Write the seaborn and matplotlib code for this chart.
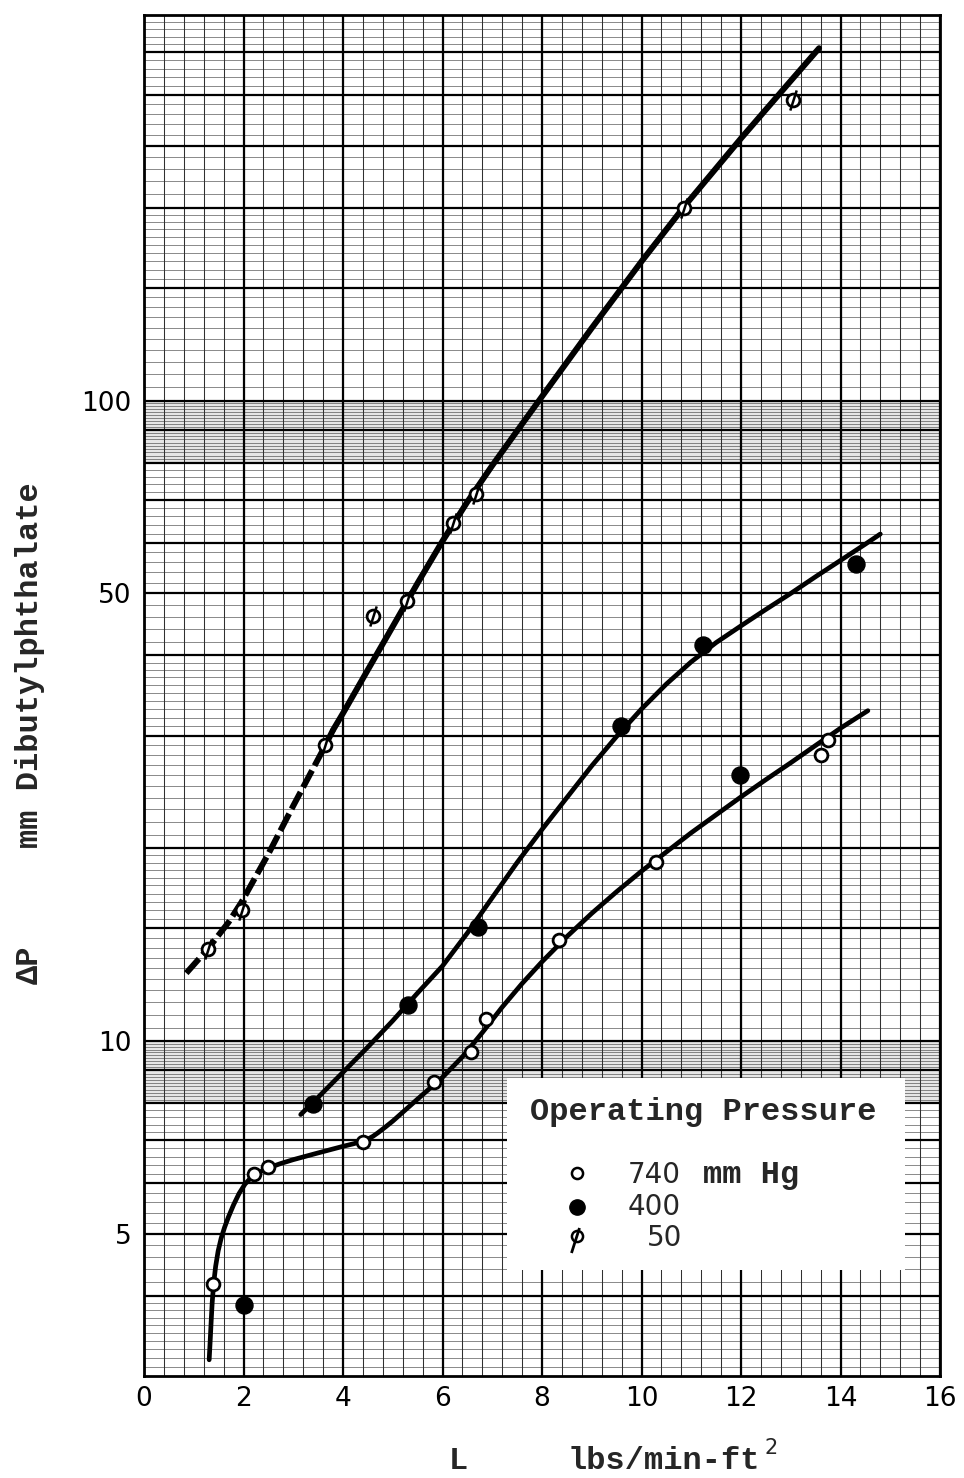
import numpy as np
import pandas as pd
import matplotlib
matplotlib.use("Agg")
import matplotlib.pyplot as plt
from matplotlib.path import Path
from matplotlib.patches import Rectangle
from matplotlib.ticker import NullLocator, FixedLocator, FixedFormatter
import seaborn as sns

# ---------------- data ----------------
# measured points
L_740 = [1.39, 2.21, 2.50, 4.40, 5.82, 6.58, 6.88, 8.35, 10.29, 13.61, 13.74]
dp_740 = [4.18, 6.20, 6.35, 6.95, 8.63, 9.61, 10.84, 14.4, 19.06, 28.0, 29.55]

L_400 = [2.01, 3.40, 5.31, 6.71, 9.59, 11.23, 11.97, 14.31]
dp_400 = [3.87, 7.98, 11.37, 15.08, 31.0, 41.6, 26.05, 55.5]

L_50 = [1.29, 1.96, 3.63, 4.60, 5.29, 6.21, 6.68, 10.86, 13.04]
dp_50 = [13.95, 16.0, 29.0, 46.1, 48.6, 64.5, 71.4, 199.7, 294.8]

# hand-drawn curves (knots)
curve740_L = [1.31, 1.33, 1.35, 1.37, 1.40, 1.44, 1.49, 1.55, 1.62, 1.70, 1.80,
              1.91, 2.03, 2.15, 2.30, 2.50, 2.75, 3.00, 3.50, 4.00, 4.20, 4.40,
              4.50, 4.60, 4.70, 4.85, 5.00, 5.50, 6.00, 6.40, 6.80, 7.20, 7.60,
              8.00, 8.50, 9.00, 9.50, 10.0, 10.5, 11.0, 11.5, 12.0, 12.5, 13.0,
              13.5, 14.0, 14.55]
curve740_dp = [3.18, 3.40, 3.65, 3.90, 4.18, 4.45, 4.70, 4.92, 5.12, 5.32, 5.55,
               5.78, 5.98, 6.12, 6.23, 6.34, 6.44, 6.53, 6.69, 6.85, 6.91, 6.98,
               7.03, 7.10, 7.19, 7.34, 7.50, 8.12, 8.78, 9.45, 10.31, 11.30, 12.30,
               13.30, 14.56, 15.83, 17.11, 18.42, 19.74, 21.15, 22.56, 24.06,
               25.60, 27.20, 28.95, 30.80, 32.80]

curve400_L = [3.15, 3.50, 4.00, 4.50, 5.00, 5.50, 6.00, 6.50, 7.00, 7.50, 8.00,
              8.50, 9.00, 9.50, 10.0, 10.5, 11.0, 11.5, 12.0, 12.5, 13.0, 13.5,
              14.0, 14.5, 14.8]
curve400_dp = [7.68, 8.17, 8.94, 9.79, 10.76, 11.89, 13.1, 14.75, 16.75, 19.0, 21.4,
               24.0, 26.9, 29.9, 33.0, 36.1, 39.1, 41.9, 44.5, 47.2, 50.0, 53.1,
               56.3, 59.7, 61.9]

curve50_dash_L = [0.85, 1.29, 1.70, 1.96, 2.50, 3.00, 3.63, 3.80]
curve50_dash_dp = [12.77, 13.95, 15.33, 16.48, 19.6, 23.3, 28.8, 30.6]
curve50_L = [3.80, 4.00, 4.50, 5.00, 5.50, 6.00, 6.50, 7.00, 7.50, 8.00, 9.00,
             10.0, 10.86, 12.0, 13.0, 13.57]
curve50_dp = [30.6, 32.5, 38.0, 44.4, 51.9, 60.35, 69.5, 79.2, 89.7, 101.5, 129.8,
              164.9, 201.0, 256.7, 315.7, 355.0]

x_ticks = [0, 2, 4, 6, 8, 10, 12, 14, 16]
y_ticks = [5, 10, 50, 100]
y_ticklabels = ["5", "10", "50", "100"]
legend_title = "Operating Pressure"
legend_labels = ["740", "400", "50"]

# ---------------- figure ----------------
W, H = 964, 1478
sns.set_style("white")
plt.rcParams['font.family'] = ['DejaVu Sans']
MONO = ['Liberation Mono', 'DejaVu Sans Mono']
TW = 'bold'

fig = plt.figure(figsize=(W / 100, H / 100), dpi=100)
AX_L, AX_R, AX_T, AX_B = 144, 940, 15, 1376
ax = fig.add_axes([AX_L / W, 1 - AX_B / H, (AX_R - AX_L) / W, (AX_B - AX_T) / H])
ax.set_yscale('log')
ax.set_xlim(0, 16)
ax.set_ylim(3, 400)

# ---- graph-paper grid ----
ax.axhspan(8, 10, color='#e6e6e6', zorder=0, lw=0)
ax.axhspan(80, 100, color='#e6e6e6', zorder=0, lw=0)

minor_y = np.concatenate([
    np.arange(3.0, 4.0, 0.1), np.arange(4.0, 8.0, 0.2), np.arange(8.0, 10.0, 0.1),
    np.arange(10, 20, 0.5), np.arange(20, 40, 1.0), np.arange(40, 80, 2.0),
    np.arange(80, 100, 1.0), np.arange(100, 200, 5.0), np.arange(200, 400, 10.0)])
major_y = [4, 5, 6, 7, 8, 9, 10, 15, 20, 30, 40, 50, 60, 70, 80, 90, 100,
           150, 200, 250, 300, 350]
minor_x = np.arange(0, 16.01, 0.4)
major_x = np.arange(0, 16.01, 2)

ax.hlines(minor_y, 0, 16, colors='#5a5a5a', lw=0.5, zorder=1)
ax.vlines(minor_x, 3, 400, colors='#303030', lw=0.75, zorder=1)
ax.hlines(major_y, 0, 16, colors='black', lw=1.6, zorder=2)
ax.vlines(major_x, 3, 400, colors='black', lw=1.6, zorder=2)

for s in ax.spines.values():
    s.set_linewidth(2.0)
    s.set_color('black')
    s.set_zorder(3)

# ---- curves ----
sns.lineplot(x=curve740_L, y=curve740_dp, ax=ax, color='black', lw=3.4,
             sort=False, estimator=None, zorder=4)
sns.lineplot(x=curve400_L, y=curve400_dp, ax=ax, color='black', lw=3.4,
             sort=False, estimator=None, zorder=4)
sns.lineplot(x=curve50_dash_L, y=curve50_dash_dp, ax=ax, color='black', lw=4.3,
             sort=False, estimator=None, zorder=4, dashes=False,
             linestyle=(0, (3.2, 0.9)))
sns.lineplot(x=curve50_L, y=curve50_dp, ax=ax, color='black', lw=4.3,
             sort=False, estimator=None, zorder=4)

# ---- points ----
slash = Path([(-0.4, -1.25), (0.4, 1.25)], [Path.MOVETO, Path.LINETO])
sns.scatterplot(x=L_740, y=dp_740, ax=ax, marker='o', s=85, color='white',
                edgecolor='black', linewidth=2.0, zorder=6)
sns.scatterplot(x=L_400, y=dp_400, ax=ax, marker='o', s=150, color='black',
                edgecolor='black', linewidth=1.0, zorder=6)
sns.scatterplot(x=L_50, y=dp_50, ax=ax, marker='o', s=85, color='white',
                edgecolor='black', linewidth=2.0, zorder=6)
sns.scatterplot(x=L_50, y=dp_50, ax=ax, marker=slash, s=210, color='black',
                edgecolor='black', linewidth=1.8, zorder=7)

# ---- ticks ----
ax.xaxis.set_major_locator(FixedLocator(x_ticks))
ax.xaxis.set_major_formatter(FixedFormatter([str(v) for v in x_ticks]))
ax.yaxis.set_major_locator(FixedLocator(y_ticks))
ax.yaxis.set_major_formatter(FixedFormatter(y_ticklabels))
ax.yaxis.set_minor_locator(NullLocator())
ax.xaxis.set_minor_locator(NullLocator())
ax.tick_params(axis='both', length=0, labelsize=19, colors='black')
ax.tick_params(axis='x', pad=7)
ax.tick_params(axis='y', pad=9)
ax.set_xlabel('')
ax.set_ylabel('')


def axf(px, py):
    return (px - AX_L) / (AX_R - AX_L), (AX_B - py) / (AX_B - AX_T)


# ---- legend box (hand-made like the typed label) ----
x0, y0 = axf(507, 1270)
x1, y1 = axf(905, 1078)
ax.add_patch(Rectangle((x0, y0), x1 - x0, y1 - y0, transform=ax.transAxes,
                       facecolor='white', edgecolor='none', zorder=8))
tx, ty = axf(530, 1112)
ax.text(tx, ty, legend_title, transform=ax.transAxes, family=MONO, size=23,
        weight=TW, va='center', ha='left', zorder=9)
mx = axf(577, 0)[0]
ax.plot([mx], [axf(0, 1173)[1]], transform=ax.transAxes, marker='o', ms=8,
        mfc='white', mec='black', mew=1.8, zorder=9)
ax.plot([mx], [axf(0, 1207)[1]], transform=ax.transAxes, marker='o', ms=11,
        mfc='black', mec='black', zorder=9)
ax.plot([mx], [axf(0, 1236)[1]], transform=ax.transAxes, marker='o', ms=8,
        mfc='white', mec='black', mew=1.8, zorder=9)
ax.plot([mx - 0.002], [axf(0, 1240)[1]], transform=ax.transAxes, marker=slash,
        ms=18, mec='black', mew=2.0, zorder=9)
lx = axf(628, 0)[0]
ax.text(lx, axf(0, 1175)[1], legend_labels[0], transform=ax.transAxes, size=20,
        va='center', ha='left', zorder=9)
ax.text(axf(703, 0)[0], axf(0, 1175)[1], 'mm Hg', transform=ax.transAxes,
        family=MONO, size=23, weight=TW, va='center', ha='left', zorder=9)
ax.text(lx, axf(0, 1207)[1], legend_labels[1], transform=ax.transAxes, size=20,
        va='center', ha='left', zorder=9)
ax.text(axf(647, 0)[0], axf(0, 1238)[1], legend_labels[2], transform=ax.transAxes,
        size=20, va='center', ha='left', zorder=9)

# ---- axis titles ----
fig.text(30 / W, 1 - 665 / H, 'mm Dibutylphthalate', family=MONO, size=23,
         weight=TW, rotation=90, ha='center', va='center')
fig.text(30 / W, 1 - 965 / H, 'ΔP', family=MONO, size=23, weight=TW,
         rotation=90, ha='center', va='center')
fig.text(458 / W, 1 - 1461 / H, 'L', family=MONO, size=23, weight=TW,
         ha='center', va='center')
fig.text(568 / W, 1 - 1461 / H, 'lbs/min-ft', family=MONO, size=23, weight=TW,
         ha='left', va='center')
fig.text(771 / W, 1 - 1448 / H, '2', size=15, ha='center', va='center')

fig.savefig('out.png', dpi=100, facecolor='white')
